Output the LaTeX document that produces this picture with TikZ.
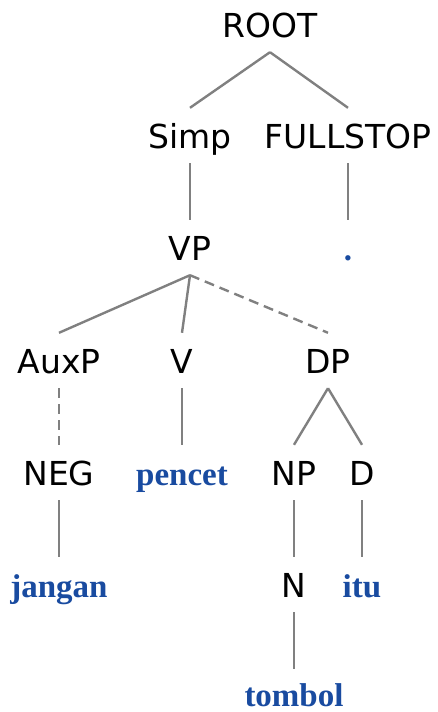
\documentclass[tikz,border=0pt]{standalone}
\usepackage{fontspec}
\setmainfont{Liberation Serif}
\newfontfamily\catfont{DejaVu Sans}
\newfontfamily\wordfont{Liberation Serif}
\definecolor{wordblue}{RGB}{25,75,160}
\definecolor{branch}{RGB}{128,128,128}
\begin{document}
\begin{tikzpicture}[x=1pt,y=-1pt,
  cat/.style={anchor=base,inner xsep=0pt,inner ysep=15pt,text height=25pt,text depth=0pt,
    font=\catfont\fontsize{33}{33}\selectfont,text=black},
  word/.style={anchor=base,inner xsep=0pt,inner ysep=15pt,text height=25pt,text depth=0pt,
    font=\wordfont\bfseries\fontsize{33}{33}\selectfont,text=wordblue},
  branch/.style={draw=branch,line width=2.4pt},
  dashbranch/.style={branch,dash pattern=on 10pt off 6pt}]
\useasboundingbox (0,0) rectangle (438,712);

% categories
\node[cat] (root) at (270,37) {ROOT};
\node[cat] (simp) at (190,148) {Simp};
\node[cat] (fullstop) at (348,148) {FULLSTOP};
\node[cat] (vp) at (190,260) {VP};
\node[word] (stop) at (348,260) {.};
\node[cat] (auxp) at (59,373) {AuxP};
\node[cat] (v) at (182,373) {V};
\node[cat] (dp) at (328,373) {DP};
\node[cat] (neg) at (59,485) {NEG};
\node[word] (pencet) at (182,485) {pencet};
\node[cat] (np) at (294,485) {NP};
\node[cat] (d) at (362,485) {D};
\node[word] (jangan) at (59,597) {jangan};
\node[cat] (n) at (294,597) {N};
\node[word] (itu) at (362,597) {itu};
\node[word] (tombol) at (294,706) {tombol};

% branches
\draw[branch] (root.south) -- (simp.north);
\draw[branch] (root.south) -- (fullstop.north);
\draw[branch] (simp.south) -- (vp.north);
\draw[branch] (fullstop.south) -- (stop.north);
\draw[branch] (vp.south) -- (auxp.north);
\draw[branch] (vp.south) -- (v.north);
\draw[dashbranch] (vp.south) -- (dp.north);
\draw[dashbranch] (auxp.south) -- (neg.north);
\draw[branch] (v.south) -- (pencet.north);
\draw[branch] (dp.south) -- (np.north);
\draw[branch] (dp.south) -- (d.north);
\draw[branch] (neg.south) -- (jangan.north);
\draw[branch] (np.south) -- (n.north);
\draw[branch] (d.south) -- (itu.north);
\draw[branch] (n.south) -- ([yshift=-3pt]tombol.north);
\end{tikzpicture}
\end{document}
